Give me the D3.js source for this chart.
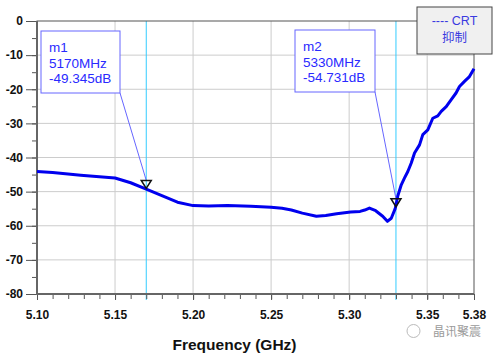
<!DOCTYPE html>
<html>
<head>
<meta charset="utf-8">
<script src="https://cdn.jsdelivr.net/npm/d3@7"></script>
<style>
  body { margin: 0; background: #fff; }
  svg { display: block; font-family: "Liberation Sans", Arial, sans-serif; }
  .grid line { stroke: #cccccc; stroke-width: 1; }
  .tick-label text { font-size: 12px; font-weight: bold; fill: #111; }
  .marker-text { font-size: 13.5px; fill: #2a2aff; }
</style>
</head>
<body>
<svg id="chart"></svg>
<script>
// trace: CRT rejection, frequency in GHz, level in dB
const freqGHz = [
  5.100, 5.110, 5.128, 5.150, 5.160, 5.170, 5.180, 5.190, 5.200, 5.210,
  5.222, 5.237, 5.250, 5.257, 5.263, 5.270, 5.279, 5.285, 5.292, 5.301,
  5.307, 5.310, 5.313, 5.317, 5.3215, 5.3245, 5.327, 5.3295, 5.3312, 5.3334,
  5.3355, 5.3376, 5.3398, 5.3419, 5.3451, 5.3472, 5.3504, 5.3536, 5.3568, 5.3590,
  5.3622, 5.3653, 5.3685, 5.3707, 5.3739, 5.3771, 5.380,
];
const levelDb = [
  -44.1, -44.4, -45.2, -46.0, -47.4, -49.3, -51.2, -53.1, -54.1, -54.2,
  -54.1, -54.3, -54.6, -54.9, -55.4, -56.3, -57.2, -57.0, -56.5, -56.0,
  -55.8, -55.4, -54.8, -55.6, -57.2, -58.7, -57.8, -55.0, -51.2, -48.0,
  -46.0, -44.1, -41.6, -38.7, -36.3, -33.3, -31.9, -28.5, -27.8, -26.5,
  -25.1, -23.1, -21.1, -19.2, -17.7, -16.3, -14.0,
];

const markerNames = ["m1", "m2"];
const markerFreqMHz = [5170, 5330];
const markerDb = [-49.345, -54.731];

const xTicks = [5.10, 5.15, 5.20, 5.25, 5.30, 5.35, 5.38];
const yTicks = [0, -10, -20, -30, -40, -50, -60, -70, -80];
const legendLines = ["---- CRT", "抑制"];

(function chartModule() {
  const width = 496;
  const height = 354;
  const plot = { left: 37, right: 474, top: 21, bottom: 294 };

  const svg = d3.select("#chart").attr("width", width).attr("height", height);

  const x = d3.scaleLinear().domain([5.10, 5.38]).range([plot.left, plot.right]);
  const y = d3.scaleLinear().domain([-80, 0]).range([plot.bottom, plot.top]);

  const xMinor = d3.range(5.10, 5.3801, 0.01).map((d) => +d.toFixed(2));
  const yMinor = d3.range(-80, 0.1, 5);

  // grid
  const grid = svg.append("g").attr("class", "grid");
  grid
    .selectAll("line.v")
    .data(xTicks.slice(1, -1))
    .join("line")
    .attr("class", "v")
    .attr("x1", (d) => x(d))
    .attr("x2", (d) => x(d))
    .attr("y1", plot.top)
    .attr("y2", plot.bottom);
  grid
    .selectAll("line.h")
    .data(yTicks.slice(1, -1))
    .join("line")
    .attr("class", "h")
    .attr("x1", plot.left)
    .attr("x2", plot.right)
    .attr("y1", (d) => y(d))
    .attr("y2", (d) => y(d));

  // marker verticals
  svg
    .append("g")
    .selectAll("line")
    .data(markerFreqMHz)
    .join("line")
    .attr("x1", (d) => x(d / 1000))
    .attr("x2", (d) => x(d / 1000))
    .attr("y1", plot.top)
    .attr("y2", plot.bottom + 6)
    .attr("stroke", "#33ccff")
    .attr("stroke-width", 1);

  // frame
  svg
    .append("rect")
    .attr("x", plot.left)
    .attr("y", plot.top)
    .attr("width", plot.right - plot.left)
    .attr("height", plot.bottom - plot.top)
    .attr("fill", "none")
    .attr("stroke", "#555")
    .attr("stroke-width", 1);

  const stripDomain = (g) => g.select(".domain").remove();

  svg
    .append("g")
    .attr("transform", `translate(${plot.left},0)`)
    .call(d3.axisLeft(y).tickValues(yMinor).tickSize(5).tickFormat(""))
    .call(stripDomain)
    .selectAll("line")
    .attr("stroke", "#555");
  svg
    .append("g")
    .attr("class", "tick-label")
    .attr("transform", `translate(${plot.left},0)`)
    .call(
      d3
        .axisLeft(y)
        .tickValues(yTicks)
        .tickSize(11)
        .tickPadding(3)
        .tickFormat((d) => String(d)),
    )
    .call(stripDomain)
    .selectAll("line")
    .attr("stroke", "#555");

  svg
    .append("g")
    .attr("transform", `translate(0,${plot.bottom})`)
    .call(d3.axisBottom(x).tickValues(xMinor).tickSize(5).tickFormat(""))
    .call(stripDomain)
    .selectAll("line")
    .attr("stroke", "#555");
  svg
    .append("g")
    .attr("class", "tick-label")
    .attr("transform", `translate(0,${plot.bottom})`)
    .call(
      d3
        .axisBottom(x)
        .tickValues(xTicks)
        .tickSize(6)
        .tickPadding(10)
        .tickFormat(d3.format(".2f")),
    )
    .call(stripDomain)
    .selectAll("line")
    .attr("stroke", "#555");

  // heavier left/bottom axis lines
  svg
    .append("path")
    .attr("d", `M${plot.left},${plot.top}V${plot.bottom}H${plot.right}`)
    .attr("fill", "none")
    .attr("stroke", "#666")
    .attr("stroke-width", 2);

  const trace = freqGHz.map((f, i) => ({ f, db: levelDb[i] }));
  const line = d3
    .line()
    .x((d) => x(d.f))
    .y((d) => y(d.db));

  svg
    .append("path")
    .datum(trace)
    .attr("d", line)
    .attr("fill", "none")
    .attr("stroke", "#0000ee")
    .attr("stroke-width", 3)
    .attr("stroke-linejoin", "round");

  // marker boxes
  const boxes = [
    { x: 41, y: 31, w: 79, h: 62 },
    { x: 295, y: 30, w: 80, h: 62 },
  ];

  markerNames.forEach((name, i) => {
    const mx = x(markerFreqMHz[i] / 1000);
    const my = y(markerDb[i]);
    const b = boxes[i];

    svg
      .append("line")
      .attr("x1", b.x + b.w)
      .attr("y1", b.y + b.h)
      .attr("x2", mx)
      .attr("y2", my - 9)
      .attr("stroke", "#6666ff")
      .attr("stroke-width", 1);

    svg
      .append("rect")
      .attr("x", b.x)
      .attr("y", b.y)
      .attr("width", b.w)
      .attr("height", b.h)
      .attr("fill", "#fff")
      .attr("stroke", "#6666ff")
      .attr("stroke-width", 1);

    const lines = [name, `${markerFreqMHz[i]}MHz`, `${markerDb[i].toFixed(3)}dB`];
    svg
      .append("g")
      .selectAll("text")
      .data(lines)
      .join("text")
      .attr("class", "marker-text")
      .attr("x", b.x + 8)
      .attr("y", (d, k) => b.y + 21 + k * 15.5)
      .text((d) => d);

    svg
      .append("path")
      .attr("d", `M${mx - 5},${my - 9}L${mx + 5},${my - 9}L${mx},${my - 1}Z`)
      .attr("fill", "none")
      .attr("stroke", "#111")
      .attr("stroke-width", 1.5);
  });

  // legend
  const legend = svg.append("g").attr("transform", "translate(417,7)");
  legend
    .append("rect")
    .attr("width", 75)
    .attr("height", 47)
    .attr("fill", "#f0f0f0")
    .attr("stroke", "#444")
    .attr("stroke-width", 1);
  legend
    .selectAll("text")
    .data(legendLines)
    .join("text")
    .attr("x", 37.5)
    .attr("y", (d, i) => 18 + i * 16.5)
    .attr("text-anchor", "middle")
    .attr("fill", "#3a3ae0")
    .style("font-size", "12.5px")
    .style("font-family", (d, i) =>
      i === 1 ? "'Noto Sans CJK SC', sans-serif" : null,
    )
    .text((d) => d);

  svg
    .append("text")
    .attr("x", 234.5)
    .attr("y", 350)
    .attr("text-anchor", "middle")
    .style("font-size", "15.5px")
    .style("font-weight", "bold")
    .attr("fill", "#111")
    .text("Frequency (GHz)");

  // watermark
  svg
    .append("circle")
    .attr("cx", 413.5)
    .attr("cy", 331)
    .attr("r", 6.5)
    .attr("fill", "none")
    .attr("stroke", "#bbb")
    .attr("stroke-width", 1);
  svg
    .append("text")
    .attr("x", 433)
    .attr("y", 336)
    .attr("fill", "#9a9a9a")
    .style("font-size", "12px")
    .style("font-family", "'Noto Sans CJK SC', sans-serif")
    .text("晶讯聚震");
})();
</script>
</body>
</html>
